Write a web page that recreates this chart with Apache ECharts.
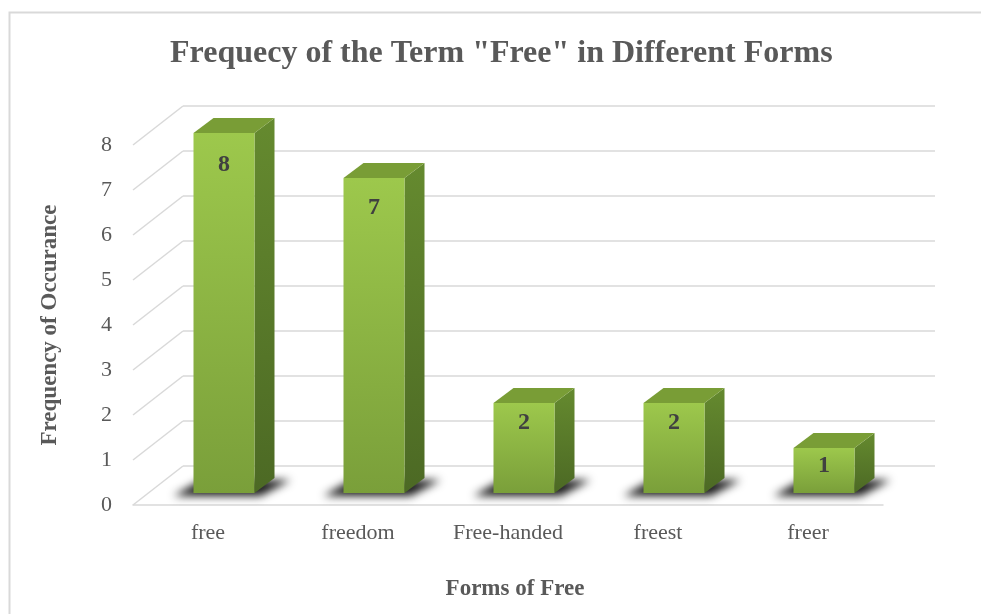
<!DOCTYPE html>
<html>
<head>
<meta charset="utf-8">
<script src="https://cdn.jsdelivr.net/npm/echarts@6/dist/echarts.min.js"></script>
<style>
  html, body { margin: 0; padding: 0; background: #fff; }
  #chart { width: 981px; height: 614px; }
</style>
</head>
<body>
<div id="chart"></div>
<script>
var categories = ['free', 'freedom', 'Free-handed', 'freest', 'freer'];
var counts = [8, 7, 2, 2, 1];
var yTicks = [0, 1, 2, 3, 4, 5, 6, 7, 8];

var chart = echarts.init(document.getElementById('chart'));
var serif = '"Liberation Serif", "Times New Roman", serif';
var textGray = '#595959';
var gridGray = '#d9d9d9';

// depth of the floor / back wall (pixels)
var WALL_DX = 50, WALL_DY = -39;
// bar placement inside the depth, and bar size
var BAR_OX = 16, BAR_OY = -12, BAR_W = 61, BAR_DX = 20, BAR_DY = -15;
// shadow drawn from an off-screen shape so only the blur shows
var FAR = 3000;

function renderWallDiagonal(params, api) {
  var p = api.coord([0, api.value(1)]);
  var x = params.coordSys.x;
  return {
    type: 'line',
    shape: { x1: x, y1: p[1], x2: x + WALL_DX, y2: p[1] + WALL_DY },
    style: { stroke: gridGray, lineWidth: 1.5 }
  };
}

function shadowShape(x0, x1, yb) {
  return {
    type: 'polygon',
    shape: { points: [
      [x0 - 20 - FAR, yb + 3], [x1 + 6 - FAR, yb + 3],
      [x1 + BAR_DX + 16 - FAR, yb + BAR_DY + 2], [x0 + BAR_DX - 12 - FAR, yb + BAR_DY + 2]
    ] },
    style: { fill: '#000', shadowColor: 'rgba(0,0,0,0.9)', shadowBlur: 8, shadowOffsetX: FAR },
    silent: true
  };
}

function renderBar(params, api) {
  var i = api.value(0), v = api.value(1);
  var base = api.coord([i, 0]);
  var top = api.coord([i, v]);
  var x0 = base[0] + BAR_OX - BAR_W / 2, x1 = x0 + BAR_W;
  var yb = base[1] + BAR_OY, yt = top[1] + BAR_OY;
  return {
    type: 'group',
    children: [
      shadowShape(x0, x1, yb),
      {
        type: 'polygon',
        shape: { points: [[x1, yb], [x1, yt], [x1 + BAR_DX, yt + BAR_DY], [x1 + BAR_DX, yb + BAR_DY]] },
        style: {
          fill: new echarts.graphic.LinearGradient(0, 0, 0, 1, [
            { offset: 0, color: '#658a2f' },
            { offset: 1, color: '#4c6924' }
          ])
        }
      },
      {
        type: 'polygon',
        shape: { points: [[x0, yt], [x1, yt], [x1 + BAR_DX, yt + BAR_DY], [x0 + BAR_DX, yt + BAR_DY]] },
        style: { fill: '#799d36' }
      },
      {
        type: 'rect',
        shape: { x: x0, y: yt, width: BAR_W, height: yb - yt },
        style: {
          fill: new echarts.graphic.LinearGradient(0, 0, 0, 1, [
            { offset: 0, color: '#9dc84c' },
            { offset: 1, color: '#7a9f3a' }
          ])
        }
      },
      {
        type: 'text',
        style: {
          x: x0 + BAR_W / 2,
          y: yt + 16 + 2 * v,
          text: String(v),
          align: 'center',
          verticalAlign: 'middle',
          font: 'bold 24px ' + serif,
          fill: '#404040'
        }
      }
    ]
  };
}

var option = {
  backgroundColor: '#fff',
  animation: false,
  title: {
    text: 'Frequecy of the Term "Free" in Different Forms',
    left: 165,
    top: 33,
    textStyle: { fontFamily: serif, fontWeight: 'bold', fontSize: 32, color: textGray }
  },
  graphic: [{
    type: 'rect',
    left: 7, top: 10,
    shape: { width: 1000, height: 640 },
    style: { fill: null, stroke: gridGray, lineWidth: 2 },
    silent: true
  }],
  grid: [
    { left: 133, right: 98, top: 145, bottom: 109 },
    { left: 183, right: 46, top: 106, bottom: 148 }
  ],
  xAxis: [
    {
      type: 'category', gridIndex: 0, data: categories,
      axisLine: { lineStyle: { color: gridGray, width: 1.5 } },
      axisTick: { show: false },
      axisLabel: { fontFamily: serif, fontSize: 22, color: textGray, margin: 17 },
      name: 'Forms of Free', nameLocation: 'middle', nameGap: 73,
      nameTextStyle: { fontFamily: serif, fontWeight: 'bold', fontSize: 23, color: textGray, padding: [0, 0, 0, 14] }
    },
    { type: 'category', gridIndex: 1, data: categories, show: false }
  ],
  yAxis: [
    {
      type: 'value', gridIndex: 0, min: 0, max: 8, interval: 1,
      axisLine: { show: false }, axisTick: { show: false }, splitLine: { show: false },
      axisLabel: { fontFamily: serif, fontSize: 22, color: textGray, margin: 21 },
      name: 'Frequency of Occurance', nameLocation: 'middle', nameGap: 71, nameRotate: 90,
      nameTextStyle: { fontFamily: serif, fontWeight: 'bold', fontSize: 23, color: textGray }
    },
    {
      type: 'value', gridIndex: 1, min: 0, max: 8, interval: 1,
      axisLine: { show: false }, axisTick: { show: false }, axisLabel: { show: false },
      splitLine: { lineStyle: { color: gridGray, width: 1.5 } }
    }
  ],
  series: [
    {
      type: 'custom', xAxisIndex: 0, yAxisIndex: 0,
      renderItem: renderWallDiagonal,
      data: yTicks.map(function (t) { return [0, t]; }),
      silent: true, z: 1
    },
    {
      type: 'custom', xAxisIndex: 0, yAxisIndex: 0,
      renderItem: renderBar,
      data: counts.map(function (c, i) { return [i, c]; }),
      z: 5
    }
  ]
};

chart.setOption(option);
</script>
</body>
</html>
